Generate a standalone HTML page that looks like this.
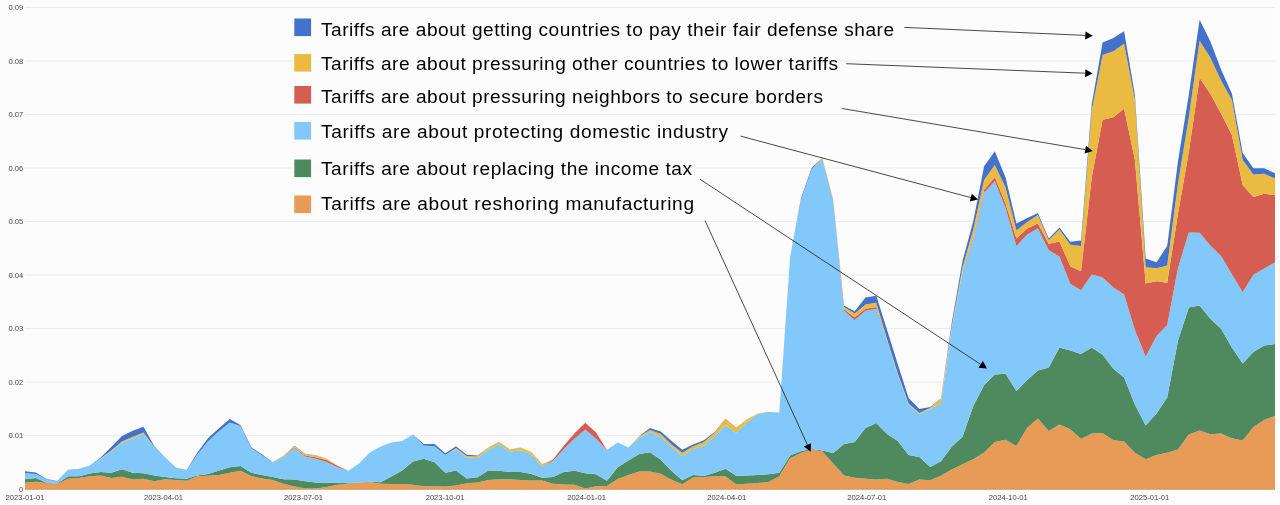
<!DOCTYPE html>
<html><head><meta charset="utf-8"><title>Tariff narratives</title>
<style>
html,body{margin:0;padding:0;background:#fcfcfc;}
body{width:1280px;height:505px;overflow:hidden;font-family:"Liberation Sans",sans-serif;}
svg{display:block;will-change:transform;font-family:"Liberation Sans",sans-serif;}
.grid line{stroke:#ececec;stroke-width:1.2;}
.ax text{font-size:7.6px;fill:#454545;}
.leg text{font-size:19.1px;fill:#000;}
.arr line{stroke:#1a1a1a;stroke-width:0.8;}
.arr polygon{fill:#000;}
</style></head><body>
<svg width="1280" height="505" viewBox="0 0 1280 505">
<rect width="1280" height="505" fill="#fcfcfc"/>
<g class="grid"><line x1="25" x2="1275" y1="489" y2="489"/><line x1="25" x2="1275" y1="435.5" y2="435.5"/><line x1="25" x2="1275" y1="382" y2="382"/><line x1="25" x2="1275" y1="328.5" y2="328.5"/><line x1="25" x2="1275" y1="275" y2="275"/><line x1="25" x2="1275" y1="221.5" y2="221.5"/><line x1="25" x2="1275" y1="168" y2="168"/><line x1="25" x2="1275" y1="114.5" y2="114.5"/><line x1="25" x2="1275" y1="61" y2="61"/><line x1="25" x2="1275" y1="7.5" y2="7.5"/></g>
<g class="areas"><path d="M25 482.7 L35.8 481.7 L46.6 483.1 L57.3 483.9 L68.1 478.7 L78.9 478 L89.7 476.3 L100.4 475.6 L111.2 478 L122 476.7 L132.8 479.6 L143.5 478.7 L154.3 481.3 L165.1 479.2 L175.9 479.9 L186.6 480.7 L197.4 476.3 L208.2 475.8 L219 475 L229.7 472.7 L240.5 470.8 L251.3 476.1 L262.1 478.6 L272.8 480.1 L283.6 483.8 L294.4 486.6 L305.2 488.5 L315.9 488.5 L326.7 486.9 L337.5 484.7 L348.3 483.8 L359.1 482.7 L369.8 481.9 L380.6 483.8 L391.4 484 L402.2 484 L412.9 484.7 L423.7 486.3 L434.5 486.3 L445.3 486.6 L456 485.5 L466.8 483.2 L477.6 482.4 L488.4 480.1 L499.1 479.2 L509.9 479.3 L520.7 480.1 L531.5 480.4 L542.2 480.4 L553 483.8 L563.8 484.6 L574.6 484.7 L585.3 488.5 L596.1 486.3 L606.9 486.1 L617.7 478.9 L628.4 475 L639.2 471.6 L650 471.6 L660.8 473.7 L671.6 479.8 L682.3 484.2 L693.1 477.6 L703.9 476.9 L714.7 476.3 L725.4 476.3 L736.2 484.5 L747 483.8 L757.8 483 L768.5 482.1 L779.3 476.3 L790.1 458.2 L800.9 452.9 L811.6 449.6 L822.4 451.4 L833.2 463.4 L844 475.4 L854.7 477.8 L865.5 478.8 L876.3 479.4 L887.1 478.8 L897.8 482.1 L908.6 484.1 L919.4 479.6 L930.2 480.3 L940.9 475.8 L951.7 469.4 L962.5 464.3 L973.3 459.3 L984.1 452.4 L994.8 441.9 L1005.6 439.8 L1016.4 446.1 L1027.2 427.8 L1037.9 418.6 L1048.7 431.1 L1059.5 424.4 L1070.3 429.2 L1081 439 L1091.8 433.4 L1102.6 433.1 L1113.4 440.3 L1124.1 441.4 L1134.9 452.8 L1145.7 459.3 L1156.5 454.9 L1167.2 452.8 L1178 449.6 L1188.8 434.4 L1199.6 430.5 L1210.3 434.2 L1221.1 433.5 L1231.9 438.2 L1242.7 440.6 L1253.4 427 L1264.2 420 L1275 416 L1275 489 L1264.2 489 L1253.4 489 L1242.7 489 L1231.9 489 L1221.1 489 L1210.3 489 L1199.6 489 L1188.8 489 L1178 489 L1167.2 489 L1156.5 489 L1145.7 489 L1134.9 489 L1124.1 489 L1113.4 489 L1102.6 489 L1091.8 489 L1081 489 L1070.3 489 L1059.5 489 L1048.7 489 L1037.9 489 L1027.2 489 L1016.4 489 L1005.6 489 L994.8 489 L984.1 489 L973.3 489 L962.5 489 L951.7 489 L940.9 489 L930.2 489 L919.4 489 L908.6 489 L897.8 489 L887.1 489 L876.3 489 L865.5 489 L854.7 489 L844 489 L833.2 489 L822.4 489 L811.6 489 L800.9 489 L790.1 489 L779.3 489 L768.5 489 L757.8 489 L747 489 L736.2 489 L725.4 489 L714.7 489 L703.9 489 L693.1 489 L682.3 489 L671.6 489 L660.8 489 L650 489 L639.2 489 L628.4 489 L617.7 489 L606.9 489 L596.1 489 L585.3 489 L574.6 489 L563.8 489 L553 489 L542.2 489 L531.5 489 L520.7 489 L509.9 489 L499.1 489 L488.4 489 L477.6 489 L466.8 489 L456 489 L445.3 489 L434.5 489 L423.7 489 L412.9 489 L402.2 489 L391.4 489 L380.6 489 L369.8 489 L359.1 489 L348.3 489 L337.5 489 L326.7 489 L315.9 489 L305.2 489 L294.4 489 L283.6 489 L272.8 489 L262.1 489 L251.3 489 L240.5 489 L229.7 489 L219 489 L208.2 489 L197.4 489 L186.6 489 L175.9 489 L165.1 489 L154.3 489 L143.5 489 L132.8 489 L122 489 L111.2 489 L100.4 489 L89.7 489 L78.9 489 L68.1 489 L57.3 489 L46.6 489 L35.8 489 L25 489Z" fill="#E79B56"/>
<path d="M25 479.2 L35.8 478.1 L46.6 482.7 L57.3 483.4 L68.1 476.3 L78.9 476.3 L89.7 473.5 L100.4 472 L111.2 472.7 L122 469.2 L132.8 472.7 L143.5 473.2 L154.3 475.6 L165.1 477 L175.9 478.3 L186.6 478.8 L197.4 475.5 L208.2 473.9 L219 470.4 L229.7 467.3 L240.5 466 L251.3 472.7 L262.1 475 L272.8 477 L283.6 479.2 L294.4 479.6 L305.2 481.2 L315.9 482.4 L326.7 482.7 L337.5 482.7 L348.3 483.2 L359.1 482.4 L369.8 481.7 L380.6 482.3 L391.4 476.5 L402.2 470.4 L412.9 461.6 L423.7 458.8 L434.5 462.2 L445.3 472.7 L456 470.4 L466.8 478.6 L477.6 477.3 L488.4 470.4 L499.1 470.8 L509.9 471.9 L520.7 471.9 L531.5 473.9 L542.2 477.7 L553 477 L563.8 471.9 L574.6 470.7 L585.3 473.2 L596.1 474.2 L606.9 480.7 L617.7 467.3 L628.4 460.6 L639.2 453.9 L650 452.3 L660.8 459.8 L671.6 471.1 L682.3 480.3 L693.1 475.1 L703.9 476 L714.7 472.8 L725.4 468.8 L736.2 475.8 L747 475.5 L757.8 474.9 L768.5 474.2 L779.3 472.8 L790.1 455.4 L800.9 451.2 L811.6 448.9 L822.4 450.4 L833.2 452.9 L844 443.9 L854.7 442.1 L865.5 427.9 L876.3 422.9 L887.1 433.9 L897.8 440.9 L908.6 455.1 L919.4 457.1 L930.2 467.1 L940.9 461.2 L951.7 446.8 L962.5 436.8 L973.3 406.1 L984.1 384.9 L994.8 374.5 L1005.6 373.7 L1016.4 391.1 L1027.2 380 L1037.9 370.4 L1048.7 367.4 L1059.5 347.5 L1070.3 350.5 L1081 353.9 L1091.8 347.4 L1102.6 354.7 L1113.4 368.7 L1124.1 377.5 L1134.9 404.4 L1145.7 425.4 L1156.5 413.6 L1167.2 397.4 L1178 340.5 L1188.8 307.6 L1199.6 305.4 L1210.3 318.7 L1221.1 328.7 L1231.9 347.4 L1242.7 363.6 L1253.4 351.9 L1264.2 345.4 L1275 344.1 L1275 416 L1264.2 420 L1253.4 427 L1242.7 440.6 L1231.9 438.2 L1221.1 433.5 L1210.3 434.2 L1199.6 430.5 L1188.8 434.4 L1178 449.6 L1167.2 452.8 L1156.5 454.9 L1145.7 459.3 L1134.9 452.8 L1124.1 441.4 L1113.4 440.3 L1102.6 433.1 L1091.8 433.4 L1081 439 L1070.3 429.2 L1059.5 424.4 L1048.7 431.1 L1037.9 418.6 L1027.2 427.8 L1016.4 446.1 L1005.6 439.8 L994.8 441.9 L984.1 452.4 L973.3 459.3 L962.5 464.3 L951.7 469.4 L940.9 475.8 L930.2 480.3 L919.4 479.6 L908.6 484.1 L897.8 482.1 L887.1 478.8 L876.3 479.4 L865.5 478.8 L854.7 477.8 L844 475.4 L833.2 463.4 L822.4 451.4 L811.6 449.6 L800.9 452.9 L790.1 458.2 L779.3 476.3 L768.5 482.1 L757.8 483 L747 483.8 L736.2 484.5 L725.4 476.3 L714.7 476.3 L703.9 476.9 L693.1 477.6 L682.3 484.2 L671.6 479.8 L660.8 473.7 L650 471.6 L639.2 471.6 L628.4 475 L617.7 478.9 L606.9 486.1 L596.1 486.3 L585.3 488.5 L574.6 484.7 L563.8 484.6 L553 483.8 L542.2 480.4 L531.5 480.4 L520.7 480.1 L509.9 479.3 L499.1 479.2 L488.4 480.1 L477.6 482.4 L466.8 483.2 L456 485.5 L445.3 486.6 L434.5 486.3 L423.7 486.3 L412.9 484.7 L402.2 484 L391.4 484 L380.6 483.8 L369.8 481.9 L359.1 482.7 L348.3 483.8 L337.5 484.7 L326.7 486.9 L315.9 488.5 L305.2 488.5 L294.4 486.6 L283.6 483.8 L272.8 480.1 L262.1 478.6 L251.3 476.1 L240.5 470.8 L229.7 472.7 L219 475 L208.2 475.8 L197.4 476.3 L186.6 480.7 L175.9 479.9 L165.1 479.2 L154.3 481.3 L143.5 478.7 L132.8 479.6 L122 476.7 L111.2 478 L100.4 475.6 L89.7 476.3 L78.9 478 L68.1 478.7 L57.3 483.9 L46.6 483.1 L35.8 481.7 L25 482.7Z" fill="#4F8A5E"/>
<path d="M25 472.9 L35.8 473.9 L46.6 479.6 L57.3 481.6 L68.1 469.6 L78.9 469.2 L89.7 465.9 L100.4 458.8 L111.2 451.6 L122 442.8 L132.8 438.2 L143.5 433.9 L154.3 447.1 L165.1 457.8 L175.9 467.6 L186.6 470.3 L197.4 454.4 L208.2 441 L219 431.3 L229.7 422.5 L240.5 426 L251.3 448.3 L262.1 455.4 L272.8 462.6 L283.6 456.9 L294.4 448.3 L305.2 456.5 L315.9 458.8 L326.7 461.9 L337.5 467.3 L348.3 470.8 L359.1 463.4 L369.8 452.6 L380.6 446.4 L391.4 442.6 L402.2 441 L412.9 434.5 L423.7 445.6 L434.5 446.2 L445.3 454.9 L456 449.2 L466.8 457.7 L477.6 458 L488.4 449.5 L499.1 444.6 L509.9 451.8 L520.7 450.3 L531.5 454.4 L542.2 466.5 L553 461.1 L563.8 449.2 L574.6 438.4 L585.3 429.5 L596.1 438.7 L606.9 450.3 L617.7 442.6 L628.4 447.6 L639.2 438 L650 431.8 L660.8 437.1 L671.6 446.7 L682.3 455.9 L693.1 449 L703.9 445.8 L714.7 436.2 L725.4 424.9 L736.2 432.8 L747 422.3 L757.8 414.1 L768.5 412.2 L779.3 412.6 L790.1 257.3 L800.9 199.9 L811.6 169.6 L822.4 159.4 L833.2 201.2 L844 310.8 L854.7 319.9 L865.5 310.8 L876.3 308.7 L887.1 340.8 L897.8 375 L908.6 404.5 L919.4 414.1 L930.2 408.9 L940.9 403.4 L951.7 328.5 L962.5 272.3 L973.3 239.2 L984.1 192.4 L994.8 181.2 L1005.6 207.9 L1016.4 246.1 L1027.2 234.4 L1037.9 228.6 L1048.7 249.9 L1059.5 256.8 L1070.3 283.7 L1081 290.2 L1091.8 274.5 L1102.6 277.4 L1113.4 287.4 L1124.1 294.4 L1134.9 329.9 L1145.7 356.8 L1156.5 336.1 L1167.2 324.9 L1178 268 L1188.8 232.4 L1199.6 232.7 L1210.3 245.5 L1221.1 256.1 L1231.9 274.3 L1242.7 292.3 L1253.4 274.8 L1264.2 268.6 L1275 262.3 L1275 344.1 L1264.2 345.4 L1253.4 351.9 L1242.7 363.6 L1231.9 347.4 L1221.1 328.7 L1210.3 318.7 L1199.6 305.4 L1188.8 307.6 L1178 340.5 L1167.2 397.4 L1156.5 413.6 L1145.7 425.4 L1134.9 404.4 L1124.1 377.5 L1113.4 368.7 L1102.6 354.7 L1091.8 347.4 L1081 353.9 L1070.3 350.5 L1059.5 347.5 L1048.7 367.4 L1037.9 370.4 L1027.2 380 L1016.4 391.1 L1005.6 373.7 L994.8 374.5 L984.1 384.9 L973.3 406.1 L962.5 436.8 L951.7 446.8 L940.9 461.2 L930.2 467.1 L919.4 457.1 L908.6 455.1 L897.8 440.9 L887.1 433.9 L876.3 422.9 L865.5 427.9 L854.7 442.1 L844 443.9 L833.2 452.9 L822.4 450.4 L811.6 448.9 L800.9 451.2 L790.1 455.4 L779.3 472.8 L768.5 474.2 L757.8 474.9 L747 475.5 L736.2 475.8 L725.4 468.8 L714.7 472.8 L703.9 476 L693.1 475.1 L682.3 480.3 L671.6 471.1 L660.8 459.8 L650 452.3 L639.2 453.9 L628.4 460.6 L617.7 467.3 L606.9 480.7 L596.1 474.2 L585.3 473.2 L574.6 470.7 L563.8 471.9 L553 477 L542.2 477.7 L531.5 473.9 L520.7 471.9 L509.9 471.9 L499.1 470.8 L488.4 470.4 L477.6 477.3 L466.8 478.6 L456 470.4 L445.3 472.7 L434.5 462.2 L423.7 458.8 L412.9 461.6 L402.2 470.4 L391.4 476.5 L380.6 482.3 L369.8 481.7 L359.1 482.4 L348.3 483.2 L337.5 482.7 L326.7 482.7 L315.9 482.4 L305.2 481.2 L294.4 479.6 L283.6 479.2 L272.8 477 L262.1 475 L251.3 472.7 L240.5 466 L229.7 467.3 L219 470.4 L208.2 473.9 L197.4 475.5 L186.6 478.8 L175.9 478.3 L165.1 477 L154.3 475.6 L143.5 473.2 L132.8 472.7 L122 469.2 L111.2 472.7 L100.4 472 L89.7 473.5 L78.9 476.3 L68.1 476.3 L57.3 483.4 L46.6 482.7 L35.8 478.1 L25 479.2Z" fill="#82C8FA"/>
<path d="M25 472.9 L35.8 473.9 L46.6 479.6 L57.3 481.6 L68.1 469.6 L78.9 469.2 L89.7 465.9 L100.4 458.8 L111.2 451.6 L122 442.8 L132.8 438.2 L143.5 433.9 L154.3 447.1 L165.1 457.8 L175.9 467.6 L186.6 470.3 L197.4 454.4 L208.2 441 L219 431.3 L229.7 422.5 L240.5 426 L251.3 448.3 L262.1 455.4 L272.8 462.6 L283.6 456.9 L294.4 447.6 L305.2 455.4 L315.9 457.2 L326.7 460 L337.5 465.7 L348.3 470.8 L359.1 463.4 L369.8 452.6 L380.6 446.4 L391.4 442.6 L402.2 441 L412.9 434.5 L423.7 445.6 L434.5 446.2 L445.3 454.9 L456 449.2 L466.8 457.7 L477.6 458 L488.4 449.5 L499.1 444.6 L509.9 451.8 L520.7 450.3 L531.5 454.4 L542.2 466.5 L553 459.6 L563.8 445.7 L574.6 433.3 L585.3 422.8 L596.1 432.6 L606.9 450.1 L617.7 442.6 L628.4 447.6 L639.2 438 L650 431.8 L660.8 437.1 L671.6 446.7 L682.3 455.9 L693.1 449 L703.9 445.8 L714.7 436.2 L725.4 424.9 L736.2 432.8 L747 422.3 L757.8 414.1 L768.5 412.2 L779.3 412.6 L790.1 257.3 L800.9 199.9 L811.6 169.6 L822.4 158.9 L833.2 200.6 L844 309.2 L854.7 317.3 L865.5 308.7 L876.3 307.1 L887.1 340.8 L897.8 375 L908.6 404.5 L919.4 414.1 L930.2 408.9 L940.9 403.4 L951.7 328.5 L962.5 271.8 L973.3 237.5 L984.1 189.9 L994.8 176.9 L1005.6 203.6 L1016.4 238.6 L1027.2 228.6 L1037.9 223.6 L1048.7 243.7 L1059.5 241.6 L1070.3 266.2 L1081 271.3 L1091.8 177.1 L1102.6 119.8 L1113.4 117.3 L1124.1 108.6 L1134.9 160 L1145.7 283.6 L1156.5 281.2 L1167.2 282.7 L1178 213.5 L1188.8 151.9 L1199.6 77.7 L1210.3 93.7 L1221.1 113.6 L1231.9 134.9 L1242.7 185 L1253.4 197 L1264.2 193.7 L1275 195 L1275 262.3 L1264.2 268.6 L1253.4 274.8 L1242.7 292.3 L1231.9 274.3 L1221.1 256.1 L1210.3 245.5 L1199.6 232.7 L1188.8 232.4 L1178 268 L1167.2 324.9 L1156.5 336.1 L1145.7 356.8 L1134.9 329.9 L1124.1 294.4 L1113.4 287.4 L1102.6 277.4 L1091.8 274.5 L1081 290.2 L1070.3 283.7 L1059.5 256.8 L1048.7 249.9 L1037.9 228.6 L1027.2 234.4 L1016.4 246.1 L1005.6 207.9 L994.8 181.2 L984.1 192.4 L973.3 239.2 L962.5 272.3 L951.7 328.5 L940.9 403.4 L930.2 408.9 L919.4 414.1 L908.6 404.5 L897.8 375 L887.1 340.8 L876.3 308.7 L865.5 310.8 L854.7 319.9 L844 310.8 L833.2 201.2 L822.4 159.4 L811.6 169.6 L800.9 199.9 L790.1 257.3 L779.3 412.6 L768.5 412.2 L757.8 414.1 L747 422.3 L736.2 432.8 L725.4 424.9 L714.7 436.2 L703.9 445.8 L693.1 449 L682.3 455.9 L671.6 446.7 L660.8 437.1 L650 431.8 L639.2 438 L628.4 447.6 L617.7 442.6 L606.9 450.3 L596.1 438.7 L585.3 429.5 L574.6 438.4 L563.8 449.2 L553 461.1 L542.2 466.5 L531.5 454.4 L520.7 450.3 L509.9 451.8 L499.1 444.6 L488.4 449.5 L477.6 458 L466.8 457.7 L456 449.2 L445.3 454.9 L434.5 446.2 L423.7 445.6 L412.9 434.5 L402.2 441 L391.4 442.6 L380.6 446.4 L369.8 452.6 L359.1 463.4 L348.3 470.8 L337.5 467.3 L326.7 461.9 L315.9 458.8 L305.2 456.5 L294.4 448.3 L283.6 456.9 L272.8 462.6 L262.1 455.4 L251.3 448.3 L240.5 426 L229.7 422.5 L219 431.3 L208.2 441 L197.4 454.4 L186.6 470.3 L175.9 467.6 L165.1 457.8 L154.3 447.1 L143.5 433.9 L132.8 438.2 L122 442.8 L111.2 451.6 L100.4 458.8 L89.7 465.9 L78.9 469.2 L68.1 469.6 L57.3 481.6 L46.6 479.6 L35.8 473.9 L25 472.9Z" fill="#D55D52"/>
<path d="M25 472.9 L35.8 473.9 L46.6 479.6 L57.3 481.6 L68.1 469.6 L78.9 469.2 L89.7 465.9 L100.4 458.5 L111.2 450.6 L122 441.4 L132.8 436.8 L143.5 432.5 L154.3 446.9 L165.1 457.8 L175.9 467.6 L186.6 470.3 L197.4 454.4 L208.2 441 L219 431.3 L229.7 422.5 L240.5 426 L251.3 448.3 L262.1 455.4 L272.8 462.6 L283.6 456 L294.4 446.2 L305.2 453.9 L315.9 455.4 L326.7 458.8 L337.5 465.6 L348.3 470.8 L359.1 463.4 L369.8 452.6 L380.6 446.4 L391.4 442.6 L402.2 441 L412.9 434.5 L423.7 445.6 L434.5 446.2 L445.3 454.9 L456 448.1 L466.8 456.3 L477.6 456.1 L488.4 447.3 L499.1 442.2 L509.9 449.7 L520.7 447.5 L531.5 452.1 L542.2 464.4 L553 459.3 L563.8 445.7 L574.6 433.3 L585.3 422.8 L596.1 432.6 L606.9 450.1 L617.7 442.6 L628.4 447.6 L639.2 436.4 L650 429.9 L660.8 434 L671.6 444.4 L682.3 452.8 L693.1 446.2 L703.9 442 L714.7 432.8 L725.4 418.8 L736.2 427.5 L747 419.3 L757.8 413.6 L768.5 412.2 L779.3 412.6 L790.1 257.3 L800.9 199.9 L811.6 169.6 L822.4 157.8 L833.2 199.6 L844 307.1 L854.7 313.5 L865.5 304.4 L876.3 302.8 L887.1 339.2 L897.8 373.4 L908.6 403.4 L919.4 413 L930.2 407.7 L940.9 398.7 L951.7 326.4 L962.5 267.5 L973.3 229.5 L984.1 179.9 L994.8 165 L1005.6 187.4 L1016.4 230.4 L1027.2 221.9 L1037.9 214.9 L1048.7 240.3 L1059.5 229.4 L1070.3 244.8 L1081 246.1 L1091.8 110.2 L1102.6 55 L1113.4 51.2 L1124.1 43.7 L1134.9 99.9 L1145.7 267.2 L1156.5 268.3 L1167.2 265.6 L1178 183.5 L1188.8 117.2 L1199.6 40.7 L1210.3 57.4 L1221.1 80.5 L1231.9 99.9 L1242.7 159.9 L1253.4 174.4 L1264.2 173.7 L1275 178.6 L1275 195 L1264.2 193.7 L1253.4 197 L1242.7 185 L1231.9 134.9 L1221.1 113.6 L1210.3 93.7 L1199.6 77.7 L1188.8 151.9 L1178 213.5 L1167.2 282.7 L1156.5 281.2 L1145.7 283.6 L1134.9 160 L1124.1 108.6 L1113.4 117.3 L1102.6 119.8 L1091.8 177.1 L1081 271.3 L1070.3 266.2 L1059.5 241.6 L1048.7 243.7 L1037.9 223.6 L1027.2 228.6 L1016.4 238.6 L1005.6 203.6 L994.8 176.9 L984.1 189.9 L973.3 237.5 L962.5 271.8 L951.7 328.5 L940.9 403.4 L930.2 408.9 L919.4 414.1 L908.6 404.5 L897.8 375 L887.1 340.8 L876.3 307.1 L865.5 308.7 L854.7 317.3 L844 309.2 L833.2 200.6 L822.4 158.9 L811.6 169.6 L800.9 199.9 L790.1 257.3 L779.3 412.6 L768.5 412.2 L757.8 414.1 L747 422.3 L736.2 432.8 L725.4 424.9 L714.7 436.2 L703.9 445.8 L693.1 449 L682.3 455.9 L671.6 446.7 L660.8 437.1 L650 431.8 L639.2 438 L628.4 447.6 L617.7 442.6 L606.9 450.1 L596.1 432.6 L585.3 422.8 L574.6 433.3 L563.8 445.7 L553 459.6 L542.2 466.5 L531.5 454.4 L520.7 450.3 L509.9 451.8 L499.1 444.6 L488.4 449.5 L477.6 458 L466.8 457.7 L456 449.2 L445.3 454.9 L434.5 446.2 L423.7 445.6 L412.9 434.5 L402.2 441 L391.4 442.6 L380.6 446.4 L369.8 452.6 L359.1 463.4 L348.3 470.8 L337.5 465.7 L326.7 460 L315.9 457.2 L305.2 455.4 L294.4 447.6 L283.6 456.9 L272.8 462.6 L262.1 455.4 L251.3 448.3 L240.5 426 L229.7 422.5 L219 431.3 L208.2 441 L197.4 454.4 L186.6 470.3 L175.9 467.6 L165.1 457.8 L154.3 447.1 L143.5 433.9 L132.8 438.2 L122 442.8 L111.2 451.6 L100.4 458.8 L89.7 465.9 L78.9 469.2 L68.1 469.6 L57.3 481.6 L46.6 479.6 L35.8 473.9 L25 472.9Z" fill="#EBBB41"/>
<path d="M25 471.3 L35.8 472.4 L46.6 479 L57.3 481 L68.1 469.4 L78.9 469 L89.7 465.7 L100.4 457.8 L111.2 447.1 L122 436 L132.8 430.7 L143.5 426.8 L154.3 446.2 L165.1 457.5 L175.9 467.5 L186.6 469.9 L197.4 452.6 L208.2 438 L219 428.2 L229.7 419.1 L240.5 425.1 L251.3 447.2 L262.1 454.5 L272.8 462.2 L283.6 455.7 L294.4 445.7 L305.2 453.7 L315.9 455.3 L326.7 458.7 L337.5 465.6 L348.3 470.8 L359.1 463.4 L369.8 452.6 L380.6 446.4 L391.4 442.6 L402.2 441 L412.9 434.5 L423.7 444.1 L434.5 444.1 L445.3 453.3 L456 446.2 L466.8 454.8 L477.6 455.6 L488.4 447.2 L499.1 442.1 L509.9 449.6 L520.7 447.4 L531.5 452 L542.2 464.3 L553 459.3 L563.8 445.7 L574.6 433.3 L585.3 422.8 L596.1 432.6 L606.9 450.1 L617.7 442.6 L628.4 447.6 L639.2 436.3 L650 428 L660.8 431.5 L671.6 441 L682.3 449.7 L693.1 444.4 L703.9 440.3 L714.7 431.9 L725.4 418.6 L736.2 427.4 L747 419.2 L757.8 413.5 L768.5 412.1 L779.3 412.4 L790.1 257.3 L800.9 198.5 L811.6 168 L822.4 157.8 L833.2 199.6 L844 305.5 L854.7 311.2 L865.5 297.5 L876.3 295.7 L887.1 330.1 L897.8 364.3 L908.6 398.1 L919.4 408.9 L930.2 407.1 L940.9 398.6 L951.7 323.1 L962.5 261.1 L973.3 221 L984.1 166.2 L994.8 151.2 L1005.6 177.4 L1016.4 223.6 L1027.2 217.9 L1037.9 212.9 L1048.7 238.6 L1059.5 227.4 L1070.3 241.8 L1081 240.5 L1091.8 103.8 L1102.6 42.5 L1113.4 38 L1124.1 31.2 L1134.9 94.9 L1145.7 258.6 L1156.5 262.2 L1167.2 246.1 L1178 161 L1188.8 94.7 L1199.6 19.8 L1210.3 41.2 L1221.1 69.6 L1231.9 93.7 L1242.7 152.9 L1253.4 168.3 L1264.2 168.3 L1275 173.3 L1275 178.6 L1264.2 173.7 L1253.4 174.4 L1242.7 159.9 L1231.9 99.9 L1221.1 80.5 L1210.3 57.4 L1199.6 40.7 L1188.8 117.2 L1178 183.5 L1167.2 265.6 L1156.5 268.3 L1145.7 267.2 L1134.9 99.9 L1124.1 43.7 L1113.4 51.2 L1102.6 55 L1091.8 110.2 L1081 246.1 L1070.3 244.8 L1059.5 229.4 L1048.7 240.3 L1037.9 214.9 L1027.2 221.9 L1016.4 230.4 L1005.6 187.4 L994.8 165 L984.1 179.9 L973.3 229.5 L962.5 267.5 L951.7 326.4 L940.9 398.7 L930.2 407.7 L919.4 413 L908.6 403.4 L897.8 373.4 L887.1 339.2 L876.3 302.8 L865.5 304.4 L854.7 313.5 L844 307.1 L833.2 199.6 L822.4 157.8 L811.6 169.6 L800.9 199.9 L790.1 257.3 L779.3 412.6 L768.5 412.2 L757.8 413.6 L747 419.3 L736.2 427.5 L725.4 418.8 L714.7 432.8 L703.9 442 L693.1 446.2 L682.3 452.8 L671.6 444.4 L660.8 434 L650 429.9 L639.2 436.4 L628.4 447.6 L617.7 442.6 L606.9 450.1 L596.1 432.6 L585.3 422.8 L574.6 433.3 L563.8 445.7 L553 459.3 L542.2 464.4 L531.5 452.1 L520.7 447.5 L509.9 449.7 L499.1 442.2 L488.4 447.3 L477.6 456.1 L466.8 456.3 L456 448.1 L445.3 454.9 L434.5 446.2 L423.7 445.6 L412.9 434.5 L402.2 441 L391.4 442.6 L380.6 446.4 L369.8 452.6 L359.1 463.4 L348.3 470.8 L337.5 465.6 L326.7 458.8 L315.9 455.4 L305.2 453.9 L294.4 446.2 L283.6 456 L272.8 462.6 L262.1 455.4 L251.3 448.3 L240.5 426 L229.7 422.5 L219 431.3 L208.2 441 L197.4 454.4 L186.6 470.3 L175.9 467.6 L165.1 457.8 L154.3 446.9 L143.5 432.5 L132.8 436.8 L122 441.4 L111.2 450.6 L100.4 458.5 L89.7 465.9 L78.9 469.2 L68.1 469.6 L57.3 481.6 L46.6 479.6 L35.8 473.9 L25 472.9Z" fill="#4472CA"/></g>
<line x1="25" x2="1275" y1="489.2" y2="489.2" stroke="#d98f4a" stroke-width="1"/>
<rect x="1278.7" y="0" width="1.3" height="505" fill="#ffffff"/><rect x="0" y="503.7" width="1280" height="1.3" fill="#ffffff"/>
<g class="ax"><text x="23.2" y="491.7" text-anchor="end">0</text><text x="23.2" y="438.2" text-anchor="end">0.01</text><text x="23.2" y="384.7" text-anchor="end">0.02</text><text x="23.2" y="331.2" text-anchor="end">0.03</text><text x="23.2" y="277.7" text-anchor="end">0.04</text><text x="23.2" y="224.2" text-anchor="end">0.05</text><text x="23.2" y="170.7" text-anchor="end">0.06</text><text x="23.2" y="117.2" text-anchor="end">0.07</text><text x="23.2" y="63.7" text-anchor="end">0.08</text><text x="23.2" y="10.2" text-anchor="end">0.09</text><text x="25" y="500.3" text-anchor="middle">2023-01-01</text><text x="163.5" y="500.3" text-anchor="middle">2023-04-01</text><text x="303.5" y="500.3" text-anchor="middle">2023-07-01</text><text x="445.1" y="500.3" text-anchor="middle">2023-10-01</text><text x="586.6" y="500.3" text-anchor="middle">2024-01-01</text><text x="726.7" y="500.3" text-anchor="middle">2024-04-01</text><text x="866.7" y="500.3" text-anchor="middle">2024-07-01</text><text x="1008.2" y="500.3" text-anchor="middle">2024-10-01</text><text x="1149.8" y="500.3" text-anchor="middle">2025-01-01</text></g>
<g class="leg"><line x1="293" x2="840" y1="61" y2="61" stroke="#fcfcfc" stroke-width="2.4" opacity="0.75"/><line x1="293" x2="694" y1="168" y2="168" stroke="#fcfcfc" stroke-width="2.4" opacity="0.75"/><rect x="294.3" y="18.5" width="16.8" height="17.6" fill="#4472CA"/><text x="321" y="36.2" textLength="573" lengthAdjust="spacing">Tariffs are about getting countries to pay their fair defense share</text><rect x="294.3" y="54" width="16.8" height="17.6" fill="#EBBB41"/><text x="321" y="70" textLength="517" lengthAdjust="spacing">Tariffs are about pressuring other countries to lower tariffs</text><rect x="294.3" y="86" width="16.8" height="17.6" fill="#D55D52"/><text x="321" y="103" textLength="502" lengthAdjust="spacing">Tariffs are about pressuring neighbors to secure borders</text><rect x="294.3" y="122" width="16.8" height="17.6" fill="#82C8FA"/><text x="321" y="138.2" textLength="407" lengthAdjust="spacing">Tariffs are about protecting domestic industry</text><rect x="294.3" y="159.5" width="16.8" height="17.6" fill="#4F8A5E"/><text x="321" y="175" textLength="371" lengthAdjust="spacing">Tariffs are about replacing the income tax</text><rect x="294.3" y="195.5" width="16.8" height="17.6" fill="#E79B56"/><text x="321" y="210" textLength="373" lengthAdjust="spacing">Tariffs are about reshoring manufacturing</text></g>
<g class="arr"><line x1="904.4" y1="27.4" x2="1085.3" y2="35.4"/><polygon points="1092.8,35.7 1085.1,39.4 1085.5,31.4"/><line x1="846.2" y1="63.7" x2="1085.2" y2="73.2"/><polygon points="1092.7,73.5 1085,77.2 1085.4,69.2"/><line x1="842.1" y1="108.5" x2="1085.3" y2="149.6"/><polygon points="1092.7,150.9 1084.6,153.6 1086,145.7"/><line x1="740.8" y1="136.2" x2="970.8" y2="197.6"/><polygon points="978,199.5 969.7,201.4 971.8,193.7"/><line x1="700" y1="179.2" x2="980.7" y2="364.4"/><polygon points="987,368.5 978.5,367.7 982.9,361"/><line x1="705" y1="220.5" x2="807.5" y2="445"/><polygon points="810.6,451.8 803.8,446.6 811.1,443.3"/></g>
</svg>
</body></html>
